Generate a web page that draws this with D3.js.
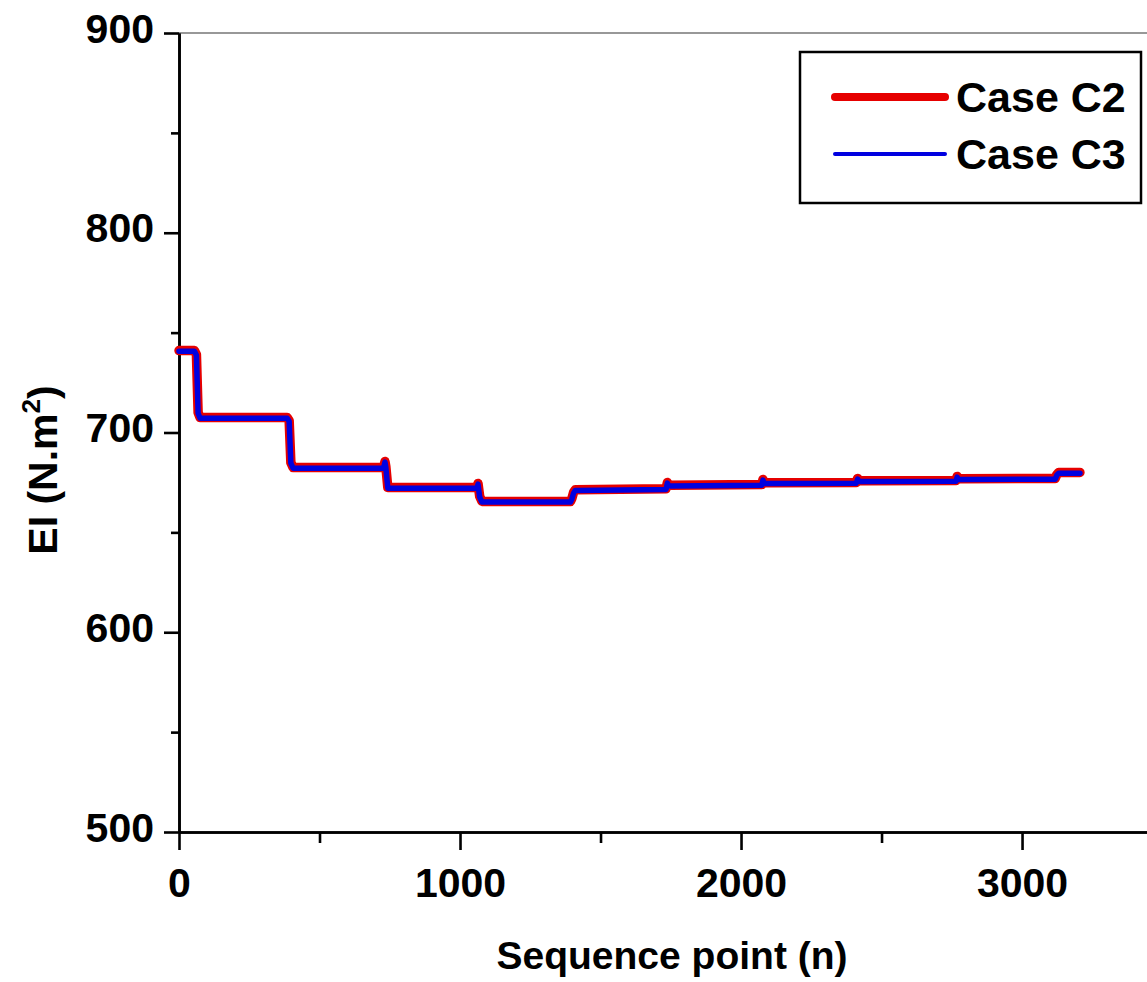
<!DOCTYPE html>
<html>
<head>
<meta charset="utf-8">
<script src="https://cdn.jsdelivr.net/npm/d3@7"></script>
<style>
  html, body { margin: 0; padding: 0; background: #fff; }
  svg { display: block; font-family: "Liberation Sans", Arial, sans-serif; font-weight: bold; }
</style>
</head>
<body>
<svg id="chart" width="1147" height="982"></svg>
<script>
// ---- data ----
const seqN = [0, 55, 62, 68, 75, 385, 392, 398, 406, 728, 733, 736, 743, 1060, 1064, 1070, 1078,
  1393, 1398, 1404, 1410, 1733, 1738, 1742, 1748, 2074, 2078, 2082, 2088, 2410, 2415, 2419, 2425,
  2765, 2769, 2773, 2779, 3118, 3124, 3130, 3206];
const elC2 = [741, 741, 739, 710, 707.5, 707.5, 706, 685, 682.5, 682.5, 685.5, 683, 672.5, 672.5, 674.5, 668, 665.5,
  665.5, 667, 670, 671.3, 671.8, 675, 673.8, 673.6, 674, 676.5, 675, 674.8, 675, 677, 676, 675.8,
  676, 678, 677, 676.8, 677, 679, 680, 680];
const elC3 = [741, 741, 739, 710, 707.5, 707.5, 706, 685, 682.5, 682.5, 685.5, 683, 672.5, 672.5, 674.5, 668, 665.5,
  665.5, 667, 670, 671.3, 671.8, 675, 673.8, 673.6, 674, 676.5, 675, 674.8, 675, 677, 676, 675.8,
  676, 678, 677, 676.8, 677, 679, 680, 680];
const seriesNames = ["Case C2", "Case C3"];
const xMajorTicks = [0, 1000, 2000, 3000];
const xMinorTicks = [500, 1500, 2500, 3500];
const yMajorTicks = [500, 600, 700, 800, 900];
const yMinorTicks = [550, 650, 750, 850];

// ---- layout ----
const svg = d3.select("#chart");
const x = d3.scaleLinear().domain([0, 3450]).range([179, 1148.5]);
const y = d3.scaleLinear().domain([500, 900]).range([832, 33]);

// top frame line
svg.append("line").attr("x1", 179).attr("x2", 1147).attr("y1", 33).attr("y2", 33)
  .attr("stroke", "#333").attr("stroke-width", 1.2);

// x axis
const gx = svg.append("g").attr("transform", "translate(0,832)");
gx.call(d3.axisBottom(x).tickValues(xMinorTicks).tickSize(11).tickSizeOuter(0).tickFormat(""));
gx.append("g").call(d3.axisBottom(x).tickValues(xMajorTicks).tickSize(18).tickSizeOuter(0).tickFormat(d3.format("d")));
gx.selectAll("path.domain").attr("stroke", "#000").attr("stroke-width", 2.6);
gx.selectAll(".tick line").attr("stroke", "#000").attr("stroke-width", 2.6);
gx.selectAll(".tick text").attr("y", 65).attr("dy", 0).attr("fill", "#000")
  .style("font-size", "41px").style("font-weight", "bold").style("font-family", "'Liberation Sans', Arial, sans-serif");

// y axis
const gy = svg.append("g").attr("transform", "translate(179,0)");
gy.call(d3.axisLeft(y).tickValues(yMinorTicks).tickSize(8).tickSizeOuter(0).tickFormat(""));
gy.append("g").call(d3.axisLeft(y).tickValues(yMajorTicks).tickSize(15).tickSizeOuter(0).tickFormat(d3.format("d")));
gy.selectAll("path.domain").attr("stroke", "#000").attr("stroke-width", 2.6);
gy.selectAll(".tick line").attr("stroke", "#000").attr("stroke-width", 2.6);
gy.selectAll(".tick text").attr("x", -25).attr("dy", "0.22em").attr("fill", "#000")
  .style("font-size", "41px").style("font-weight", "bold").style("font-family", "'Liberation Sans', Arial, sans-serif");

// axis titles
svg.append("text").attr("x", 672).attr("y", 969).attr("text-anchor", "middle")
  .style("font-size", "39px").text("Sequence point (n)");
const yt = svg.append("text").attr("transform", "translate(57,470) rotate(-90)")
  .attr("text-anchor", "middle").style("font-size", "41px");
yt.append("tspan").text("EI (N.m");
yt.append("tspan").attr("dy", -17).style("font-size", "26px").text("2");
yt.append("tspan").attr("dy", 17).text(")");

// lines
const pts2 = seqN.map((n, i) => [n, elC2[i]]);
const pts3 = seqN.map((n, i) => [n, elC3[i]]);
const line = d3.line().x(d => x(d[0])).y(d => y(d[1]));
svg.append("path").attr("d", line(pts2)).attr("fill", "none").attr("stroke", "#e60000")
  .attr("stroke-width", 9.5).attr("stroke-linejoin", "round").attr("stroke-linecap", "round");
svg.append("path").attr("d", line(pts3)).attr("fill", "none").attr("stroke", "#0000e0")
  .attr("stroke-width", 5.5).attr("stroke-linejoin", "round").attr("stroke-linecap", "round")
  .attr("transform", "translate(0,0.7)");

// legend
const lg = svg.append("g");
lg.append("rect").attr("x", 800).attr("y", 52).attr("width", 341).attr("height", 151)
  .attr("fill", "#fff").attr("stroke", "#000").attr("stroke-width", 2.5);
const legColors = ["#e60000", "#0000e0"];
const legWidths = [8, 4];
seriesNames.forEach((name, i) => {
  const ly = 97 + i * 57;
  lg.append("line").attr("x1", 835).attr("x2", 945).attr("y1", ly).attr("y2", ly)
    .attr("stroke", legColors[i]).attr("stroke-width", legWidths[i]).attr("stroke-linecap", "round");
  lg.append("text").attr("x", 956).attr("y", ly + 15).style("font-size", "43px").text(name);
});
</script>
</body>
</html>
